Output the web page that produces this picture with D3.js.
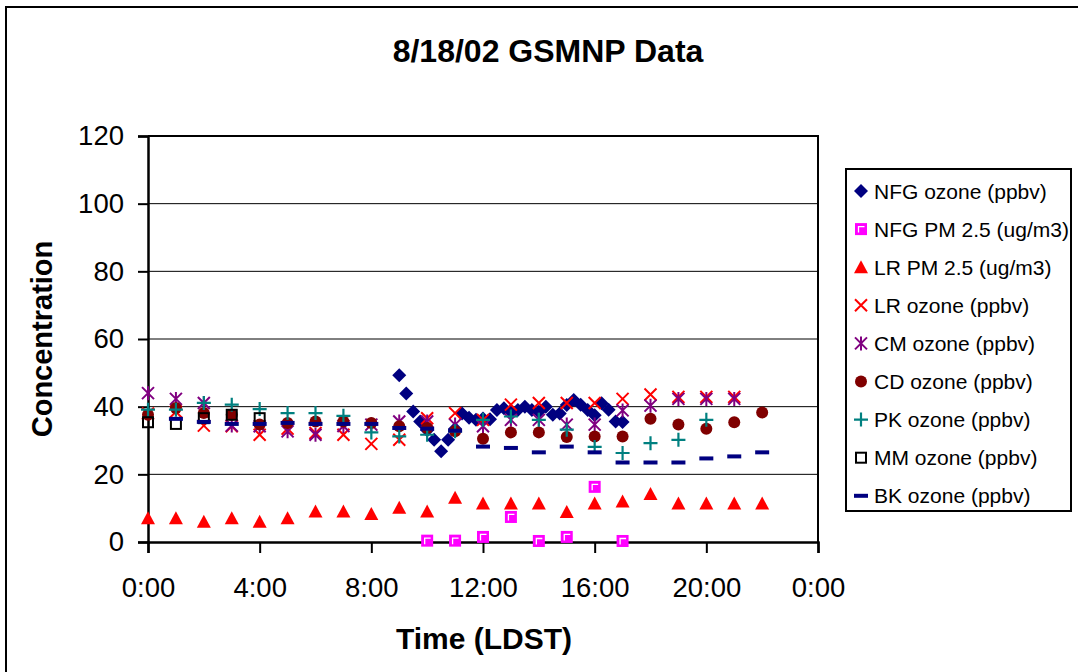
<!DOCTYPE html>
<html>
<head>
<meta charset="utf-8">
<script src="https://cdn.jsdelivr.net/npm/d3@7"></script>
<style>
  body { margin: 0; background: #fff; }
  text { font-family: Arial, "Liberation Sans", sans-serif; fill: #000; }
</style>
</head>
<body>
<svg id="chart" width="1078" height="672"></svg>
<script>
// ---- data (local daylight standard time) ----
const hourLabels = ["0:00","1:00","2:00","3:00","4:00","5:00","6:00","7:00","8:00","9:00","10:00",
  "11:00","12:00","13:00","14:00","15:00","16:00","17:00","18:00","19:00","20:00","21:00","22:00"];

const nfgOzoneTimes = ["9:00","9:15","9:30","9:45","10:00","10:15","10:30","10:45","11:00","11:15",
  "11:30","11:45","12:00","12:15","12:30","12:45","13:00","13:15","13:30","13:45","14:00","14:15",
  "14:30","14:45","15:00","15:15","15:30","15:45","16:00","16:15","16:30","16:45","17:00"];
const nfgOzone = [49.3,43.9,38.6,35.6,33.0,30.2,26.8,30.2,33.5,38.0,36.7,36.1,36.5,36.3,39.0,39.5,
  38.5,39.0,40.0,39.0,38.5,40.0,37.6,38.0,40.5,42.0,40.6,39.0,37.5,41.0,39.1,35.6,35.5];

const nfgPmTimes = ["10:00","11:00","12:00","13:00","14:00","15:00","16:00","17:00"];
const nfgPm = [0.4,0.4,1.5,7.4,0.3,1.5,16.3,0.3];

const lrPm = [7,7,6,7,6,7,9,9,8.3,10.1,9,13.1,11.4,11.4,11.4,8.9,11.4,12,14.2,11.4,11.4,11.4,11.4];
const lrOzone = [38,38.5,34.4,34.2,31.7,33.5,32.2,31.7,29,30.2,36.6,38.1,36.1,40.6,41.1,41.1,41.1,42.3,43.6,42.9,42.9,42.9];
const cmOzone = [44,42.3,41.1,34.4,34.2,32.7,31.7,34.3,34.7,35.6,35.6,34.7,34.2,36.1,36.1,34.7,34.7,38.9,40.3,42.3,42.3,42.3];
const cdOzone = [37.6,39.6,38.1,37.6,34.7,35.2,35.6,35.6,35.2,34.2,33.7,32.7,30.5,32.4,32.4,31,31.2,31.2,36.4,34.7,33.5,35.4,38.3];
const pkOzone = [39.1,39.1,41.1,40.6,39.3,38.1,38.1,37.3,32.4,31.2,31.7,32.7,36.1,37.1,36.1,33.2,28.1,26.3,29.2,30.2,36.1];
const mmOzone = [35.4,34.9,36.6,37.6,36.6];
const bkOzoneTimes = hourLabels.slice(1);
const bkOzone = [36.4,35.5,34.9,34.9,35.2,34.9,34.9,34.9,33.7,33.5,32.9,28.2,27.8,26.5,28.2,26.5,23.5,23.5,23.5,24.7,25.3,26.5];

const yTicks = [0,20,40,60,80,100,120];
const xTicks = [0,4,8,12,16,20,24];

// ---- helpers ----
const toHours = s => { const [h, m] = s.split(":").map(Number); return h + m / 60; };
const pair = (times, vals) => vals.map((v, i) => ({ t: toHours(times[i]), v }));

const series = [
  { name: "NFG ozone (ppbv)",     mark: "diamond",  pts: pair(nfgOzoneTimes, nfgOzone) },
  { name: "NFG PM 2.5 (ug/m3)",   mark: "pmSquare", pts: pair(nfgPmTimes, nfgPm) },
  { name: "LR PM 2.5 (ug/m3)",    mark: "triangle", pts: pair(hourLabels, lrPm) },
  { name: "LR ozone (ppbv)",      mark: "cross",    pts: pair(hourLabels, lrOzone) },
  { name: "CM ozone (ppbv)",      mark: "star",     pts: pair(hourLabels, cmOzone) },
  { name: "CD ozone (ppbv)",      mark: "circle",   pts: pair(hourLabels, cdOzone) },
  { name: "PK ozone (ppbv)",      mark: "plus",     pts: pair(hourLabels, pkOzone) },
  { name: "MM ozone (ppbv)",      mark: "openSq",   pts: pair(hourLabels, mmOzone) },
  { name: "BK ozone (ppbv)",      mark: "dash",     pts: pair(bkOzoneTimes, bkOzone) }
];

// marker renderers: draw into a group translated to the point
const markers = {
  diamond:  g => g.append("path").attr("d", "M0,-7L7,0L0,7L-7,0Z").attr("fill", "#000080"),
  pmSquare: g => {
    g.append("rect").attr("x", -6).attr("y", -6).attr("width", 12).attr("height", 12).attr("fill", "#FF00FF");
    g.append("path").attr("d", "M-2.5,3.5V-2.5H3.5").attr("fill", "none").attr("stroke", "#fff").attr("stroke-width", 1.3);
  },
  triangle: g => g.append("path").attr("d", "M0,-7L7,6L-7,6Z").attr("fill", "#FF0000"),
  cross:    g => g.append("path").attr("d", "M-6,-6L6,6M-6,6L6,-6").attr("stroke", "#FF0000").attr("stroke-width", 2),
  star:     g => g.append("path").attr("d", "M-6,-6L6,6M-6,6L6,-6M0,-7V7").attr("stroke", "#800080").attr("stroke-width", 2),
  circle:   g => g.append("circle").attr("r", 6).attr("fill", "#800000"),
  plus:     g => g.append("path").attr("d", "M-7,0H7M0,-7V7").attr("stroke", "#008080").attr("stroke-width", 2.2),
  openSq:   g => g.append("rect").attr("x", -5).attr("y", -5).attr("width", 10).attr("height", 10)
                  .attr("fill", "none").attr("stroke", "#000").attr("stroke-width", 2),
  dash:     g => g.append("rect").attr("x", -7).attr("y", -2).attr("width", 14).attr("height", 4).attr("fill", "#000080")
};

// ---- layout ----
const svg = d3.select("#chart");
const plot = { left: 148, right: 818, top: 136, bottom: 542 };

const x = d3.scaleLinear().domain([0, 24]).range([plot.left, plot.right]);
const y = d3.scaleLinear().domain([0, 120]).range([plot.bottom, plot.top]);

// chart area frame
svg.append("rect").attr("x", 6).attr("y", 7).attr("width", 1100).attr("height", 700)
  .attr("fill", "#fff").attr("stroke", "#000").attr("stroke-width", 2);

// title
svg.append("text").attr("x", 548).attr("y", 62).attr("text-anchor", "middle")
  .attr("font-size", 32).attr("font-weight", "bold").text("8/18/02 GSMNP Data");

// gridlines
svg.append("g").selectAll("line").data(yTicks.filter(d => d > 0)).join("line")
  .attr("x1", plot.left).attr("x2", plot.right)
  .attr("y1", d => y(d)).attr("y2", d => y(d))
  .attr("stroke", "#000").attr("stroke-width", 1);

// plot border (top and right)
svg.append("path")
  .attr("d", `M${plot.left},${plot.top}H${plot.right}V${plot.bottom}`)
  .attr("fill", "none").attr("stroke", "#000").attr("stroke-width", 2);

// y axis
const yAxis = svg.append("g").attr("transform", `translate(${plot.left},0)`)
  .call(d3.axisLeft(y).tickValues(yTicks).tickSize(10).tickPadding(14).tickFormat(d3.format("d")));
yAxis.select(".domain").attr("stroke", "#000").attr("stroke-width", 2.5);
yAxis.selectAll(".tick line").attr("stroke", "#000").attr("stroke-width", 2);
yAxis.selectAll(".tick text").attr("font-size", 27.5).attr("font-family", "Arial, 'Liberation Sans', sans-serif").attr("fill", "#000");

// x axis
const xAxis = svg.append("g").attr("transform", `translate(0,${plot.bottom})`)
  .call(d3.axisBottom(x).tickValues(xTicks).tickSize(11).tickPadding(24)
    .tickFormat(d => `${d % 24}:00`));
xAxis.select(".domain").attr("stroke", "#000").attr("stroke-width", 2.5);
xAxis.selectAll(".tick line").attr("stroke", "#000").attr("stroke-width", 2);
xAxis.selectAll(".tick text").attr("font-size", 27.5).attr("font-family", "Arial, 'Liberation Sans', sans-serif").attr("fill", "#000");

// axis titles
svg.append("text").attr("x", 484).attr("y", 649).attr("text-anchor", "middle")
  .attr("font-size", 30).attr("font-weight", "bold").text("Time (LDST)");
svg.append("text").attr("transform", "translate(52,339) rotate(-90)").attr("text-anchor", "middle")
  .attr("font-size", 29).attr("font-weight", "bold").text("Concentration");

// data markers, drawn in series order
series.forEach(s => {
  svg.append("g").attr("class", "series").selectAll("g").data(s.pts).join("g")
    .attr("transform", d => `translate(${x(d.t)},${y(d.v)})`)
    .each(function () { markers[s.mark](d3.select(this)); });
});

// legend
const legend = svg.append("g");
legend.append("rect").attr("x", 846).attr("y", 169).attr("width", 225).attr("height", 342)
  .attr("fill", "#fff").attr("stroke", "#000").attr("stroke-width", 2);
const rows = legend.selectAll("g.row").data(series).join("g").attr("class", "row")
  .attr("transform", (d, i) => `translate(0,${191 + i * 38.1})`);
rows.each(function (d) {
  const g = d3.select(this);
  markers[d.mark](g.append("g").attr("transform", "translate(861,0)"));
  g.append("text").attr("x", 874).attr("y", 7.5).attr("font-size", 21).text(d.name);
});
</script>
</body>
</html>
